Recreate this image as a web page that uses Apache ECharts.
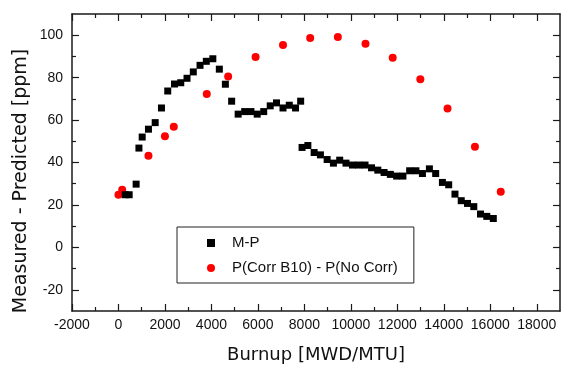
<!DOCTYPE html>
<html>
<head>
<meta charset="utf-8">
<style>html,body{margin:0;padding:0;background:#fff}#c{width:567px;height:365px}</style>
<script src="https://cdn.jsdelivr.net/npm/echarts@6/dist/echarts.min.js"></script>
</head>
<body>
<div id="c"></div>
<script>
// ---- data ----
var mpBurnup = [290, 460, 760, 880, 1020, 1290, 1580, 1850, 2120, 2410,
  2680, 2950, 3220, 3510, 3780, 4060, 4340, 4600, 4870, 5150,
  5430, 5700, 5970, 6250, 6530, 6800, 7080, 7350, 7620, 7840,
  7900, 8150, 8420, 8690, 8980, 9250, 9520, 9790, 10070, 10340,
  10610, 10890, 11160, 11430, 11700, 11970, 12240, 12530, 12800, 13080,
  13380, 13650, 13940, 14210, 14480, 14750, 15020, 15290, 15580, 15850,
  16130];
var mpValues = [24.8, 24.8, 29.8, 46.8, 52.0, 55.7, 58.8, 65.7, 73.7, 77.0,
  77.6, 79.7, 82.7, 85.8, 87.7, 88.9, 84.0, 76.9, 68.9, 62.8,
  64.0, 64.0, 62.8, 64.0, 66.7, 68.1, 65.7, 67.0, 65.7, 68.9,
  47.1, 48.0, 44.7, 43.6, 41.4, 39.7, 41.1, 39.7, 38.8, 38.8,
  38.8, 37.5, 36.4, 35.3, 34.4, 33.6, 33.6, 36.1, 36.1, 34.8,
  37.0, 34.8, 30.6, 29.5, 25.1, 22.0, 20.7, 19.2, 15.7, 14.6,
  13.6];
var corrBurnup = [0, 160, 1290, 2000, 2380, 3800, 4720, 5900, 7080, 8250,
  9440, 10630, 11800, 12990, 14160, 15340, 16450];
var corrValues = [24.8, 27.2, 43.2, 52.4, 56.8, 72.3, 80.5, 89.7, 95.4, 98.7,
  99.2, 96.0, 89.4, 79.2, 65.4, 47.4, 26.2];
var xMajorTicks = [-2000, 0, 2000, 4000, 6000, 8000, 10000, 12000, 14000, 16000, 18000];
var xMinorTicks = [-1000, 1000, 3000, 5000, 7000, 9000, 11000, 13000, 15000, 17000];
var yMajorTicks = [-20, 0, 20, 40, 60, 80, 100];
var yMinorTicks = [-10, 10, 30, 50, 70, 90];
var seriesNames = ['M-P', 'P(Corr B10) - P(No Corr)'];
var xTitle = 'Burnup [MWD/MTU]';
var yTitle = 'Measured - Predicted [ppm]';

function zip(a, b) { return a.map(function (v, i) { return [v, b[i]]; }); }

var AX = '#1a1a1a';
var FONT = 'Liberation Sans, Arial, sans-serif';
function plain(v) { return String(v); }
function xAxisDef(pos, ticks, len, line, labels, extra) {
  var o = {
    type: 'value', position: pos, min: -2000, max: 19000,
    axisLine: { show: line, onZero: false, lineStyle: { color: AX, width: 1.5 } },
    axisTick: { show: true, inside: true, length: len, customValues: ticks, lineStyle: { color: AX, width: 1.2 } },
    axisLabel: labels ? { show: true, customValues: ticks, formatter: plain, fontSize: 14, fontFamily: FONT, color: '#111', margin: 7 } : { show: false },
    splitLine: { show: false }
  };
  return Object.assign(o, extra || {});
}
function yAxisDef(pos, ticks, len, line, labels) {
  return {
    type: 'value', position: pos, min: -30, max: 110,
    axisLine: { show: line, onZero: false, lineStyle: { color: AX, width: 1.5 } },
    axisTick: { show: true, inside: true, length: len, customValues: ticks, lineStyle: { color: AX, width: 1.2 } },
    axisLabel: labels ? { show: true, customValues: ticks, formatter: plain, fontSize: 14, fontFamily: FONT, color: '#111', margin: 9 } : { show: false },
    splitLine: { show: false }
  };
}

var chart = echarts.init(document.getElementById('c'), null, { renderer: 'canvas' });
chart.setOption({
  animation: false,
  backgroundColor: '#fff',
  grid: { left: 72, right: 7, top: 14, bottom: 54, containLabel: false, outerBoundsMode: 'none' },
  xAxis: [
    xAxisDef('bottom', xMajorTicks, 7, true, true, {
      name: xTitle, nameLocation: 'middle', nameGap: 35,
      nameTextStyle: { fontSize: 18, fontFamily: 'DejaVu Sans', color: '#111' }
    }),
    xAxisDef('bottom', xMinorTicks, 4, false, false),
    xAxisDef('top', xMajorTicks, 7, true, false),
    xAxisDef('top', xMinorTicks, 4, false, false)
  ],
  yAxis: [
    yAxisDef('left', yMajorTicks, 7, true, true),
    yAxisDef('left', yMinorTicks, 4, false, false),
    yAxisDef('right', yMajorTicks, 7, true, false),
    yAxisDef('right', yMinorTicks, 4, false, false)
  ],
  legend: {
    data: seriesNames,
    orient: 'vertical',
    left: 177, top: 227,
    padding: [8, 16, 7, 30],
    itemGap: 9,
    itemWidth: 8, itemHeight: 8,
    borderColor: '#222', borderWidth: 1,
    textStyle: { fontSize: 15, fontFamily: FONT, color: '#111', lineHeight: 16, padding: [0, 0, 0, 12] }
  },
  graphic: [{
    type: 'text', x: 21, y: 181, rotation: Math.PI / 2,
    style: { text: yTitle, fontSize: 19, fontFamily: 'DejaVu Sans', fill: '#111', textAlign: 'center', textVerticalAlign: 'middle' }
  }],
  series: [
    {
      name: seriesNames[1], type: 'scatter', xAxisIndex: 0, yAxisIndex: 0,
      symbol: 'circle', symbolSize: 8,
      itemStyle: { color: '#ff0000', opacity: 1 },
      data: zip(corrBurnup, corrValues)
    },
    {
      name: seriesNames[0], type: 'scatter', xAxisIndex: 0, yAxisIndex: 0,
      symbol: 'rect', symbolSize: 7,
      itemStyle: { color: '#000', opacity: 1 },
      data: zip(mpBurnup, mpValues)
    }
  ]
});
</script>
</body>
</html>
